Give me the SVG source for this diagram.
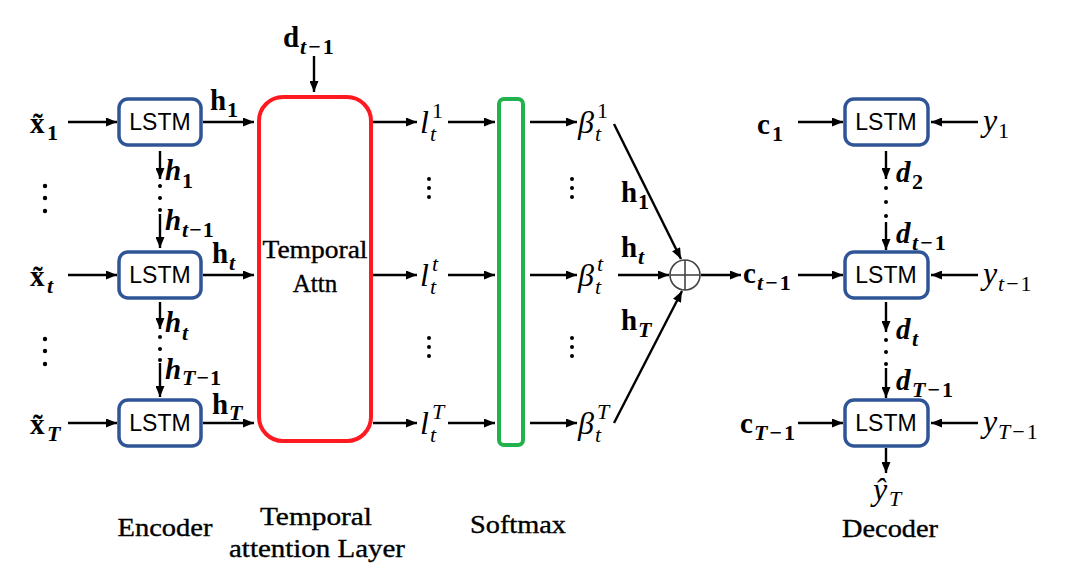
<svg xmlns="http://www.w3.org/2000/svg" width="1068" height="576" viewBox="0 0 1068 576">
<defs>
<marker id="ah" markerUnits="userSpaceOnUse" markerWidth="11" markerHeight="9" refX="11" refY="4.5" orient="auto">
<path d="M0,0 L11,4.5 L0,9 z" fill="#000"/>
</marker>
<style>
.c{stroke:#000;stroke-width:2.4;fill:none;marker-end:url(#ah)}
.box{fill:#fff;stroke:#2F5597;stroke-width:3.5}
.lstm{font-family:"Liberation Sans",Arial,sans-serif;font-size:23px;fill:#000;text-anchor:middle}
.mb{font-family:"Liberation Serif","Times New Roman",serif;font-size:29px;font-weight:bold;fill:#000}
.mbi{font-family:"Liberation Serif","Times New Roman",serif;font-size:29px;font-weight:bold;font-style:italic;fill:#000}
.mi{font-family:"Liberation Serif","Times New Roman",serif;font-size:32px;font-style:italic;fill:#000}
.sb{font-family:"Liberation Serif","Times New Roman",serif;font-size:22px;font-weight:bold;font-style:normal;fill:#000}
.sbi{font-family:"Liberation Serif","Times New Roman",serif;font-size:22px;font-weight:bold;font-style:italic;fill:#000}
.si{font-family:"Liberation Serif","Times New Roman",serif;font-size:22px;font-style:italic;fill:#000}
.sr{font-family:"Liberation Serif","Times New Roman",serif;font-size:22px;font-style:normal;fill:#000}
.lbl{font-family:"Liberation Serif","Times New Roman",serif;font-size:25px;fill:#000;text-anchor:middle;stroke:#000;stroke-width:0.35}
.dot{fill:#000}
</style>
</defs>
<rect width="1068" height="576" fill="#fff"/>

<g id="connectors">
<line class="c" x1="68" y1="122" x2="117" y2="122"/>
<line class="c" x1="68" y1="275" x2="117" y2="275"/>
<line class="c" x1="68" y1="423" x2="117" y2="423"/>
<line class="c" x1="203" y1="122" x2="254" y2="122"/>
<line class="c" x1="203" y1="275" x2="254" y2="275"/>
<line class="c" x1="203" y1="423" x2="254" y2="423"/>
<line class="c" x1="160" y1="151" x2="160" y2="179"/>
<line class="c" x1="160" y1="214" x2="160" y2="248"/>
<line class="c" x1="160" y1="302" x2="160" y2="329"/>
<line class="c" x1="160" y1="363" x2="160" y2="397"/>
<line class="c" x1="314" y1="56" x2="314" y2="92"/>
<line class="c" x1="373" y1="122" x2="417" y2="122"/>
<line class="c" x1="373" y1="275" x2="417" y2="275"/>
<line class="c" x1="373" y1="423" x2="417" y2="423"/>
<line class="c" x1="448" y1="122" x2="495" y2="122"/>
<line class="c" x1="448" y1="275" x2="495" y2="275"/>
<line class="c" x1="448" y1="423" x2="495" y2="423"/>
<line class="c" x1="530" y1="122" x2="577" y2="122"/>
<line class="c" x1="530" y1="275" x2="577" y2="275"/>
<line class="c" x1="530" y1="423" x2="577" y2="423"/>
<line class="c" x1="614" y1="124" x2="681" y2="259"/>
<line class="c" x1="618" y1="275" x2="669" y2="275"/>
<line class="c" x1="614" y1="423" x2="682" y2="291"/>
<line class="c" x1="701" y1="275" x2="741" y2="275"/>
<line class="c" x1="798" y1="122" x2="843" y2="122"/>
<line class="c" x1="798" y1="275" x2="843" y2="275"/>
<line class="c" x1="798" y1="423" x2="843" y2="423"/>
<line class="c" x1="978" y1="122" x2="931" y2="122"/>
<line class="c" x1="978" y1="275" x2="931" y2="275"/>
<line class="c" x1="978" y1="423" x2="931" y2="423"/>
<line class="c" x1="886" y1="151" x2="886" y2="179"/>
<line class="c" x1="886" y1="222" x2="886" y2="250"/>
<line class="c" x1="886" y1="302" x2="886" y2="332"/>
<line class="c" x1="886" y1="368" x2="886" y2="398"/>
<line class="c" x1="886" y1="448" x2="886" y2="473"/>
</g>

<g id="dots">
<circle class="dot" cx="160" cy="186" r="2"/><circle class="dot" cx="160" cy="198" r="2"/><circle class="dot" cx="160" cy="210" r="2"/>
<circle class="dot" cx="160" cy="337" r="2"/><circle class="dot" cx="160" cy="349" r="2"/><circle class="dot" cx="160" cy="360" r="2"/>
<circle class="dot" cx="45" cy="186" r="2.2"/><circle class="dot" cx="45" cy="198" r="2.2"/><circle class="dot" cx="45" cy="211" r="2.2"/>
<circle class="dot" cx="45" cy="339" r="2.2"/><circle class="dot" cx="45" cy="351" r="2.2"/><circle class="dot" cx="45" cy="364" r="2.2"/>
<circle class="dot" cx="429" cy="179" r="2"/><circle class="dot" cx="429" cy="188" r="2"/><circle class="dot" cx="429" cy="197" r="2"/>
<circle class="dot" cx="429" cy="338" r="2"/><circle class="dot" cx="429" cy="347" r="2"/><circle class="dot" cx="429" cy="356" r="2"/>
<circle class="dot" cx="572" cy="179" r="2"/><circle class="dot" cx="572" cy="188" r="2"/><circle class="dot" cx="572" cy="197" r="2"/>
<circle class="dot" cx="572" cy="338" r="2"/><circle class="dot" cx="572" cy="347" r="2"/><circle class="dot" cx="572" cy="356" r="2"/>
<circle class="dot" cx="886" cy="188" r="2"/><circle class="dot" cx="886" cy="202" r="2"/><circle class="dot" cx="886" cy="216" r="2"/>
<circle class="dot" cx="886" cy="340" r="2"/><circle class="dot" cx="886" cy="352" r="2"/><circle class="dot" cx="886" cy="364" r="2"/>
</g>

<g id="enc1"><rect class="box" x="119" y="99" width="82" height="46" rx="9"/><text class="lstm" x="160" y="130">LSTM</text></g>
<g id="enc2"><rect class="box" x="119" y="252" width="82" height="46" rx="9"/><text class="lstm" x="160" y="283">LSTM</text></g>
<g id="enc3"><rect class="box" x="119" y="400" width="82" height="46" rx="9"/><text class="lstm" x="160" y="431">LSTM</text></g>

<g id="attn">
<rect x="259" y="97" width="112" height="344" rx="24" fill="#fff" stroke="#FF1A22" stroke-width="4"/>
<text class="lbl" x="315" y="258" stroke-width="0.2" font-size="24px" textLength="105" lengthAdjust="spacingAndGlyphs">Temporal</text>
<text class="lbl" x="315" y="292" stroke-width="0.2" font-size="24px">Attn</text>
</g>

<g id="softmax"><rect x="499" y="99" width="24" height="346" rx="5" fill="#fff" stroke="#22B14C" stroke-width="4"/></g>

<g id="sum">
<circle cx="685" cy="275" r="15" fill="#fff" stroke="#444" stroke-width="1.6"/>
<line x1="670" y1="275" x2="700" y2="275" stroke="#444" stroke-width="1.6"/>
<line x1="685" y1="260" x2="685" y2="290" stroke="#444" stroke-width="1.6"/>
</g>

<g id="dec1"><rect class="box" x="845" y="99" width="83" height="46" rx="9"/><text class="lstm" x="886" y="130">LSTM</text></g>
<g id="dec2"><rect class="box" x="845" y="252" width="83" height="46" rx="9"/><text class="lstm" x="886" y="283">LSTM</text></g>
<g id="dec3"><rect class="box" x="845" y="400" width="83" height="46" rx="9"/><text class="lstm" x="886" y="431">LSTM</text></g>

<g id="labels">
<text class="mb" x="30" y="133">x̃</text><text class="sb" x="47" y="140">1</text>
<text class="mb" x="30" y="286">x̃</text><text class="sbi" x="47" y="293">t</text>
<text class="mb" x="30" y="434">x̃</text><text class="sbi" x="47" y="441">T</text>

<text class="mb" x="210" y="110">h</text><text class="sb" x="227" y="117">1</text>
<text class="mb" x="212" y="263">h</text><text class="sbi" x="229" y="270">t</text>
<text class="mb" x="212" y="414">h</text><text class="sbi" x="229" y="420">T</text>

<text class="mbi" x="165" y="180">h</text><text class="sb" x="182" y="188">1</text>
<text class="mbi" x="165" y="230">h</text><text class="sbi" x="182" y="237">t<tspan class="sb" dx="1">−</tspan><tspan class="sb" dx="1">1</tspan></text>
<text class="mbi" x="165" y="332">h</text><text class="sbi" x="182" y="340">t</text>
<text class="mbi" x="165" y="379">h</text><text class="sbi" x="182" y="385">T<tspan class="sb" dx="1">−</tspan><tspan class="sb" dx="1">1</tspan></text>

<text class="mb" x="283" y="47">d</text><text class="sbi" x="300" y="54">t<tspan class="sb" dx="2">−</tspan><tspan class="sb" dx="2">1</tspan></text>

<text class="mi" x="420" y="133">l</text><text class="sr" x="432" y="118">1</text><text class="si" x="430" y="141">t</text>
<text class="mi" x="420" y="286">l</text><text class="si" x="432" y="271">t</text><text class="si" x="430" y="294">t</text>
<text class="mi" x="420" y="434">l</text><text class="si" x="432" y="419">T</text><text class="si" x="430" y="442">t</text>

<text class="mi" x="578" y="133">β</text><text class="sr" x="597" y="118">1</text><text class="si" x="595" y="141">t</text>
<text class="mi" x="578" y="286">β</text><text class="si" x="597" y="271">t</text><text class="si" x="595" y="294">t</text>
<text class="mi" x="578" y="434">β</text><text class="si" x="597" y="419">T</text><text class="si" x="595" y="442">t</text>

<text class="mb" x="621" y="202">h</text><text class="sb" x="638" y="209">1</text>
<text class="mb" x="621" y="257">h</text><text class="sbi" x="638" y="264">t</text>
<text class="mb" x="621" y="330">h</text><text class="sbi" x="638" y="337">T</text>

<text class="mb" x="743" y="283">c</text><text class="sbi" x="757" y="290">t<tspan class="sb" dx="2">−</tspan><tspan class="sb" dx="2">1</tspan></text>
<text class="mb" x="757" y="134">c</text><text class="sb" x="772" y="141">1</text>
<text class="mb" x="740" y="433">c</text><text class="sbi" x="754" y="440">T<tspan class="sb" dx="2">−</tspan><tspan class="sb" dx="2">1</tspan></text>

<text class="mi" x="983" y="131">y</text><text class="sr" x="998" y="138">1</text>
<text class="mi" x="983" y="284">y</text><text class="si" x="998" y="291">t<tspan class="sr" dx="2">−</tspan><tspan class="sr" dx="2">1</tspan></text>
<text class="mi" x="983" y="432">y</text><text class="si" x="998" y="439">T<tspan class="sr" dx="2">−</tspan><tspan class="sr" dx="2">1</tspan></text>

<text class="mbi" x="896" y="182">d</text><text class="sb" x="912" y="189">2</text>
<text class="mbi" x="896" y="243">d</text><text class="sbi" x="912" y="250">t<tspan class="sb" dx="2">−</tspan><tspan class="sb" dx="2">1</tspan></text>
<text class="mbi" x="896" y="339">d</text><text class="sbi" x="912" y="346">t</text>
<text class="mbi" x="896" y="390">d</text><text class="sbi" x="912" y="397">T<tspan class="sb" dx="2">−</tspan><tspan class="sb" dx="2">1</tspan></text>

<text class="mi" x="873" y="500">ŷ</text><text class="si" x="889" y="506">T</text>
</g>

<g id="captions">
<text class="lbl" x="165" y="536" textLength="95" lengthAdjust="spacingAndGlyphs">Encoder</text>
<text class="lbl" x="316" y="525" textLength="112" lengthAdjust="spacingAndGlyphs">Temporal</text>
<text class="lbl" x="317" y="557" textLength="176" lengthAdjust="spacingAndGlyphs">attention Layer</text>
<text class="lbl" x="518" y="533" textLength="96" lengthAdjust="spacingAndGlyphs">Softmax</text>
<text class="lbl" x="890" y="537" textLength="96" lengthAdjust="spacingAndGlyphs">Decoder</text>
</g>
</svg>
